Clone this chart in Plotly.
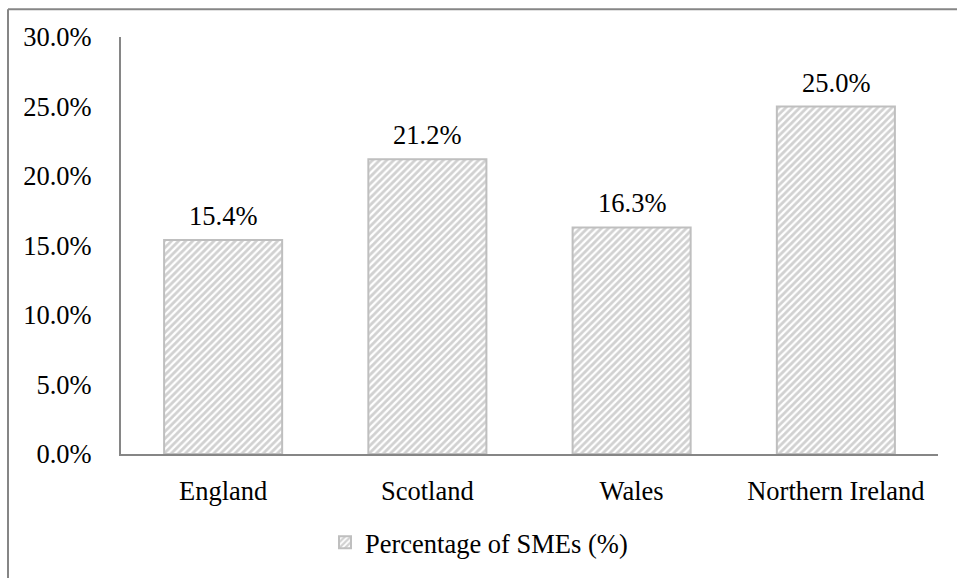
import plotly.graph_objects as go

# Share of SMEs by UK nation
regions = ["England", "Scotland", "Wales", "Northern Ireland"]
sme_pct = [15.4, 21.2, 16.3, 25.0]
series_name = "Percentage of SMEs (%)"
y_ticks = [0, 5, 10, 15, 20, 25, 30]

FONT = "Liberation Serif"
FS = 26.5
AXIS_GREY = "#868686"

W, H = 957, 578
ML, MR, MT, MB = 121, 19, 37, 122
PW, PH = W - ML - MR, H - MT - MB

fig = go.Figure()
fig.add_trace(go.Bar(
    x=regions,
    y=sme_pct,
    name=series_name,
    marker=dict(
        color="white",
        line=dict(color="#bfbfbf", width=2),
        pattern=dict(shape="/", fgcolor="#a3a3a3", bgcolor="white",
                     size=5, solidity=0.55),
    ),
    showlegend=True,
))

# value labels above each bar
for r, v in zip(regions, sme_pct):
    fig.add_annotation(
        x=r, y=v, text=f"{v:.1f}%", showarrow=False,
        yanchor="bottom", yshift=7,
        font=dict(family=FONT, size=FS, color="black"),
    )

# outer chart frame (left and top edges; right/bottom fall outside the view)
fx = (8 - ML) / PW
fy = 1 + (MT - 9) / PH
fig.add_shape(type="line", xref="paper", yref="paper",
              x0=fx, x1=fx, y0=-1, y1=fy,
              line=dict(color=AXIS_GREY, width=2))
fig.add_shape(type="line", xref="paper", yref="paper",
              x0=fx, x1=1.2, y0=fy, y1=fy,
              line=dict(color=AXIS_GREY, width=2))

fig.update_layout(
    width=W, height=H, autosize=False,
    margin=dict(l=ML, r=MR, t=MT, b=MB, pad=0),
    plot_bgcolor="white", paper_bgcolor="white",
    bargap=0.422,
    font=dict(family=FONT, size=FS, color="black"),
    xaxis=dict(
        showline=True, linecolor=AXIS_GREY, linewidth=2,
        showgrid=False, ticks="", ticklabelstandoff=12,
        tickfont=dict(family=FONT, size=FS, color="black"),
    ),
    yaxis=dict(
        range=[0, 30], tickvals=y_ticks,
        ticktext=[f"{t:.1f}%" for t in y_ticks],
        showline=True, linecolor=AXIS_GREY, linewidth=2,
        showgrid=False, zeroline=False, ticks="",
        ticklabelstandoff=22,
        tickfont=dict(family=FONT, size=FS, color="black"),
    ),
    legend=dict(
        orientation="h", x=(325 - ML) / PW, xanchor="left",
        y=-(545 - (H - MB)) / PH, yanchor="middle",
        font=dict(family=FONT, size=FS, color="black"),
        bgcolor="rgba(0,0,0,0)",
    ),
)

fig.write_html("out.html")
